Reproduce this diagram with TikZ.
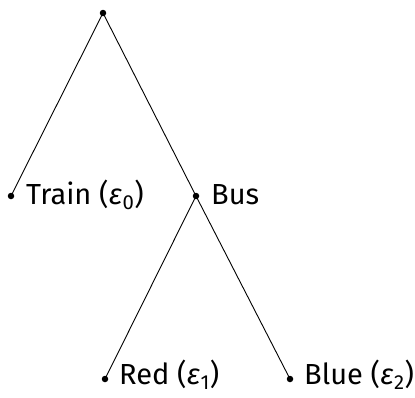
\documentclass[tikz,border=0pt]{standalone}
\usepackage{fontspec}
\setmainfont{Fira Sans}
\begin{document}
\begin{tikzpicture}[x=1pt,y=-1pt,
  dot/.style={circle,fill=black,inner sep=0pt,minimum size=6.5pt},
  lbl/.style={anchor=west,inner sep=0pt,font=\fontsize{29}{33}\selectfont},
  edge/.style={draw=black,line width=0.9pt}]
\useasboundingbox (0,0) rectangle (415,397);
\node[dot] (root) at (103,13) {};
\node[dot] (train) at (11,196) {};
\node[dot] (bus) at (196,196) {};
\node[dot] (red) at (105,379) {};
\node[dot] (blue) at (290,379) {};
\node[lbl] (trainL) at (26,195) {Train (\textit{ε}\textsubscript{0})};
\node[lbl] (busL) at (211,195) {Bus};
\node[lbl] (redL) at (119,375) {Red (\textit{ε}\textsubscript{1})};
\node[lbl] (blueL) at (304,375) {Blue (\textit{ε}\textsubscript{2})};
\draw[edge] (root.center) -- (train.center);
\draw[edge] (root.center) -- (bus.center);
\draw[edge] (bus.center) -- (red.center);
\draw[edge] (bus.center) -- (blue.center);
\end{tikzpicture}
\end{document}
